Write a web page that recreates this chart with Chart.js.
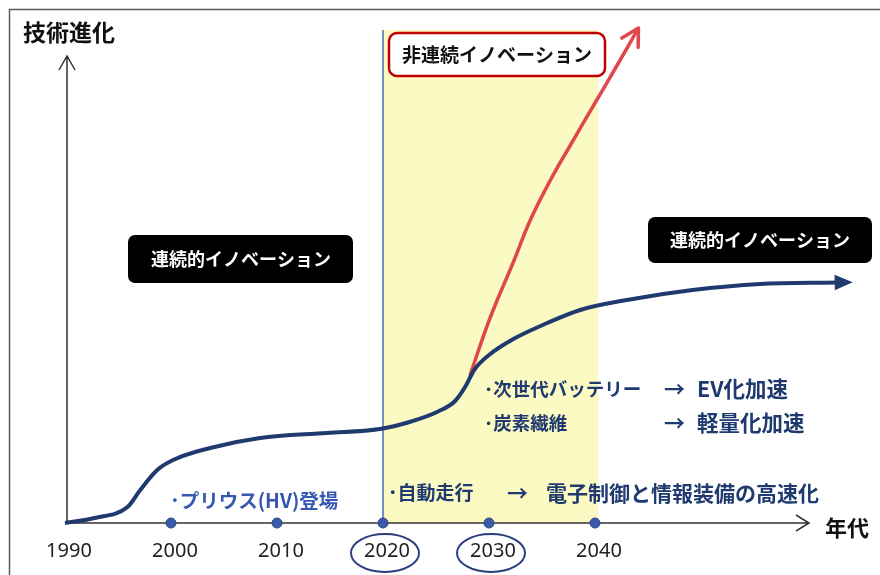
<!DOCTYPE html>
<html lang="ja">
<head>
<meta charset="utf-8">
<title>技術進化</title>
<script src="https://cdn.jsdelivr.net/npm/chart.js@4.4.1/dist/chart.umd.min.js"></script>
<style>
  html, body { margin: 0; padding: 0; background: #fff; }
  canvas { display: block; }
</style>
</head>
<body>
<canvas id="innovationChart" width="880" height="575"></canvas>
<script>
// Values (x = year, y = technology level 0-100)
const tickYears = [1990, 2000, 2010, 2020, 2030, 2040];
const milestoneYears = [2000, 2010, 2020, 2030, 2040];
const circledYears = [2020, 2030];
const bandYears = [2020, 2040.3];

// continuous innovation (blue)
const continuousYears = [1990, 1992.8, 1995.9, 1997.1, 1998.7, 2000.2, 2003.7, 2008.4, 2014.7, 2019.7,
  2022.5, 2025.2, 2026.8, 2027.8, 2028.6, 2030, 2032.3, 2035.5, 2038.6, 2043, 2049.2, 2055.6, 2062.8];
const continuousLevels = [0, 1.0, 3.2, 6.6, 10.6, 12.6, 15, 17, 18, 18.8,
  20.2, 22.3, 24.4, 27.4, 30.6, 33.6, 36.8, 40, 42.6, 44.6, 46.6, 47.8, 48.1];

// disruptive innovation (red)
const disruptiveYears = [2028.2, 2030.1, 2032.3, 2033.9, 2035.8, 2037.8, 2040.0, 2042.1, 2044.1];
const disruptiveLevels = [29.5, 41, 52.2, 60.6, 68.6, 76, 84, 91.6, 99];

const FONT_JP = '"Noto Sans CJK JP", "Noto Sans", sans-serif';
const NAVY = "#1f3a6e";

function toPoints(xs, ys) {
    return xs.map((x, i) => ({ x: x, y: ys[i] }));
}

// filled or open arrow head at the end of a dataset line
function drawHead(ctx, meta, size, filled, color) {
    const pts = meta.data;
    const a = pts[pts.length - 2];
    const b = pts[pts.length - 1];
    const ang = Math.atan2(b.y - a.y, b.x - a.x);
    ctx.save();
    ctx.translate(b.x, b.y);
    ctx.rotate(ang);
    ctx.fillStyle = color;
    ctx.strokeStyle = color;
    if (filled) {
        ctx.beginPath();
        ctx.moveTo(size, 0);
        ctx.lineTo(-2, -size * 0.48);
        ctx.lineTo(-2, size * 0.48);
        ctx.closePath();
        ctx.fill();
    } else {
        ctx.lineWidth = 3.5;
        ctx.lineCap = "round";
        ctx.lineJoin = "round";
        ctx.beginPath();
        ctx.moveTo(-size, -size * 0.55);
        ctx.lineTo(0, 0);
        ctx.lineTo(-size, size * 0.55);
        ctx.stroke();
    }
    ctx.restore();
}

function label(ctx, text, x, y, font, color, align) {
    ctx.font = font;
    ctx.fillStyle = color;
    ctx.textAlign = align || "left";
    ctx.textBaseline = "middle";
    ctx.fillText(text, x, y);
}

const decorPlugin = {
    id: "decor",
    beforeDatasetsDraw(chart) {
        const ctx = chart.ctx;
        const xs = chart.scales.x;
        const ys = chart.scales.y;
        const x0 = xs.getPixelForValue(1990);
        const y0 = ys.getPixelForValue(0);
        ctx.save();
        // picture frame
        ctx.strokeStyle = "#5a5a5a";
        ctx.lineWidth = 1.5;
        ctx.strokeRect(9.5, 9.5, 1000, 1000);
        // yellow band
        const bx1 = xs.getPixelForValue(bandYears[0]);
        const bx2 = xs.getPixelForValue(bandYears[1]);
        ctx.fillStyle = "#fcfac3";
        ctx.fillRect(bx1, 30, bx2 - bx1, y0 - 30);
        // blue divider
        ctx.strokeStyle = "#4a68b0";
        ctx.lineWidth = 1.5;
        ctx.beginPath();
        ctx.moveTo(bx1, 30);
        ctx.lineTo(bx1, y0);
        ctx.stroke();
        // axes with open arrows
        ctx.strokeStyle = "#333";
        ctx.lineWidth = 1.5;
        ctx.beginPath();
        ctx.moveTo(x0 + 2, y0);
        ctx.lineTo(x0 + 2, 56);
        ctx.moveTo(x0 - 6, 70);
        ctx.lineTo(x0 + 2, 56);
        ctx.lineTo(x0 + 10, 70);
        ctx.moveTo(x0, y0);
        ctx.lineTo(809, y0);
        ctx.moveTo(796, y0 - 8);
        ctx.lineTo(809, y0);
        ctx.lineTo(796, y0 + 8);
        ctx.stroke();
        ctx.restore();
    },
    afterDatasetsDraw(chart) {
        const ctx = chart.ctx;
        const xs = chart.scales.x;
        const ys = chart.scales.y;
        const y0 = ys.getPixelForValue(0);
        ctx.save();
        drawHead(ctx, chart.getDatasetMeta(1), 16, true, NAVY);
        drawHead(ctx, chart.getDatasetMeta(2), 17, false, "#e0474c");

        // year labels
        tickYears.forEach(yr => {
            label(ctx, String(yr), xs.getPixelForValue(yr) + 4, y0 + 28, '20px "Noto Sans", sans-serif', "#222", "center");
        });
        // circled years
        ctx.strokeStyle = "#2b3f80";
        ctx.lineWidth = 2;
        circledYears.forEach(yr => {
            ctx.beginPath();
            ctx.ellipse(xs.getPixelForValue(yr) + 2, y0 + 30, 34, 19, 0, 0, Math.PI * 2);
            ctx.stroke();
        });

        // axis titles
        label(ctx, "技術進化", 23, 32, "bold 23px " + FONT_JP, "#111");
        label(ctx, "年代", 825, 528, "bold 22px " + FONT_JP, "#111");

        // red box
        ctx.beginPath();
        ctx.roundRect(389, 33, 216, 43, 8);
        ctx.fillStyle = "#fff";
        ctx.fill();
        ctx.strokeStyle = "#c00000";
        ctx.lineWidth = 2.5;
        ctx.stroke();
        label(ctx, "非連続イノベーション", 497, 55, "bold 19px " + FONT_JP, "#111", "center");

        // black boxes
        ctx.fillStyle = "#000";
        ctx.beginPath();
        ctx.roundRect(128, 235, 225, 48, 7);
        ctx.fill();
        ctx.beginPath();
        ctx.roundRect(648, 217, 224, 46, 7);
        ctx.fill();
        label(ctx, "連続的イノベーション", 241, 259, "bold 18px " + FONT_JP, "#fff", "center");
        label(ctx, "連続的イノベーション", 760, 240, "bold 18px " + FONT_JP, "#fff", "center");

        // annotations
        const f19 = "bold 19px " + FONT_JP;
        const f21 = "bold 21px " + FONT_JP;
        const arrowFont = "bold 21px " + FONT_JP;
        label(ctx, "･プリウス(HV)登場", 170, 501, "bold 19.5px " + FONT_JP, "#3557b0");
        label(ctx, "･自動走行", 388, 493, f19, NAVY);
        label(ctx, "→", 507, 493, arrowFont, NAVY);
        label(ctx, "電子制御と情報装備の高速化", 546, 493, f21, NAVY);
        label(ctx, "･次世代バッテリー", 484, 389, "bold 18.5px " + FONT_JP, NAVY);
        label(ctx, "→", 664, 389, arrowFont, NAVY);
        label(ctx, "EV化加速", 697, 389, "bold 21.5px " + FONT_JP, NAVY);
        label(ctx, "･炭素繊維", 484, 423, "bold 18.5px " + FONT_JP, NAVY);
        label(ctx, "→", 664, 423, arrowFont, NAVY);
        label(ctx, "軽量化加速", 697, 423, "bold 21.5px " + FONT_JP, NAVY);
        ctx.restore();
    }
};

new Chart(document.getElementById("innovationChart"), {
    type: "line",
    data: {
        datasets: [{
            label: "milestones",
            data: milestoneYears.map(yr => ({ x: yr, y: 0 })),
            showLine: false,
            pointRadius: 5,
            pointBackgroundColor: "#3a5cab",
            pointBorderColor: "#2a4585",
            pointBorderWidth: 1,
            clip: false
        }, {
            label: "連続的イノベーション",
            data: toPoints(continuousYears, continuousLevels),
            borderColor: NAVY,
            borderWidth: 4,
            pointRadius: 0,
            cubicInterpolationMode: "monotone",
            clip: false
        }, {
            label: "非連続イノベーション",
            data: toPoints(disruptiveYears, disruptiveLevels),
            borderColor: "#e0474c",
            borderWidth: 3.5,
            pointRadius: 0,
            tension: 0.4,
            clip: false
        }]
    },
    options: {
        responsive: false,
        devicePixelRatio: 1,
        animation: false,
        layout: { padding: { left: 65, right: 20, top: 23, bottom: 52 } },
        plugins: {
            legend: { display: false },
            tooltip: { enabled: false }
        },
        scales: {
            x: { type: "linear", min: 1990, max: 2065, display: false },
            y: { min: 0, max: 100, display: false }
        }
    },
    plugins: [decorPlugin]
});
</script>
</body>
</html>
